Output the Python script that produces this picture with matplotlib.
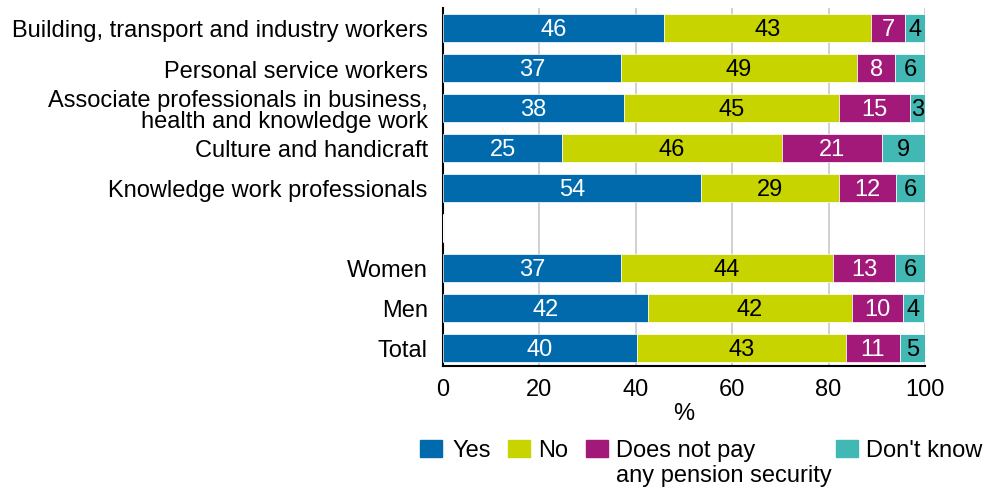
import matplotlib
matplotlib.use("Agg")
import matplotlib.pyplot as plt
from matplotlib.patches import Rectangle
import numpy as np

plt.rcParams['font.family'] = ['Liberation Sans', 'DejaVu Sans']

categories = [
    "Building, transport and industry workers",
    "Personal service workers",
    "Associate professionals in business,\nhealth and knowledge work",
    "Culture and handicraft",
    "Knowledge work professionals",
    "",
    "Women",
    "Men",
    "Total",
]
# shares in percent (labels show them rounded); None marks the spacer row
yes = [45.9, 36.9, 37.6, 24.7, 53.6, None, 36.9, 42.45, 40.2]
no = [43.0, 49.0, 44.6, 45.6, 28.6, None, 44.0, 42.45, 43.4]
no_pay = [7.0, 7.9, 14.7, 20.7, 11.7, None, 12.9, 10.45, 11.2]
dont_know = [4.1, 6.2, 3.1, 9.0, 6.1, None, 6.2, 4.45, 5.2]

series = [
    ("Yes", yes, "#006aad", "white"),
    ("No", no, "#c8d400", "black"),
    ("Does not pay\nany pension security", no_pay, "#a3197a", "white"),
    ("Don't know", dont_know, "#42b8b4", "black"),
]

FS = 17
W, H = 988, 489
fig = plt.figure(figsize=(W / 100, H / 100), dpi=100)
ax = fig.add_axes([443 / W, 1 - 367 / H, 482 / W, (367 - 9) / H])

y = np.arange(len(categories))
left = np.zeros(len(categories))
for name, vals, color, tcolor in series:
    v = np.array([np.nan if x is None else x for x in vals], dtype=float)
    ax.barh(y, np.nan_to_num(v), left=left, height=0.7, color=color,
            edgecolor="white", linewidth=0.5, zorder=3)
    for yi, (l, w) in enumerate(zip(left, v)):
        if np.isnan(w):
            continue
        ax.text(l + w / 2, yi + 0.02, f"{round(w)}", ha="center", va="center",
                color=tcolor, fontsize=FS, zorder=4)
    left = left + np.nan_to_num(v)

ax.set_xlim(0, 100)
ax.set_ylim(8.45, -0.5)
ax.set_yticks(y)
ax.set_yticklabels(categories, fontsize=FS, linespacing=0.95)
ax.set_xticks([0, 20, 40, 60, 80, 100])
ax.tick_params(axis="x", labelsize=FS, length=0, pad=9)
ax.tick_params(axis="y", length=0, pad=11)
ax.set_xlabel("%", fontsize=FS, labelpad=1)
ax.xaxis.grid(True, color="#c8c8c8", linewidth=1.2, zorder=0)
for s in ["top", "right"]:
    ax.spines[s].set_visible(False)
for s in ["left", "bottom"]:
    ax.spines[s].set_color("black")
    ax.spines[s].set_linewidth(1.5)

# legend row
legend_x = [(420, 452), (508, 538), (586, 616), (836, 866)]
for (px, tx), (name, _, color, _) in zip(legend_x, series):
    fig.add_artist(Rectangle((px / W, 1 - 458 / H), 22 / W, 17 / H,
                             transform=fig.transFigure, color=color))
    fig.text(tx / W, 1 - 440 / H, name, ha="left", va="top", fontsize=FS,
             linespacing=1.15)

fig.savefig("out.png", dpi=100)
